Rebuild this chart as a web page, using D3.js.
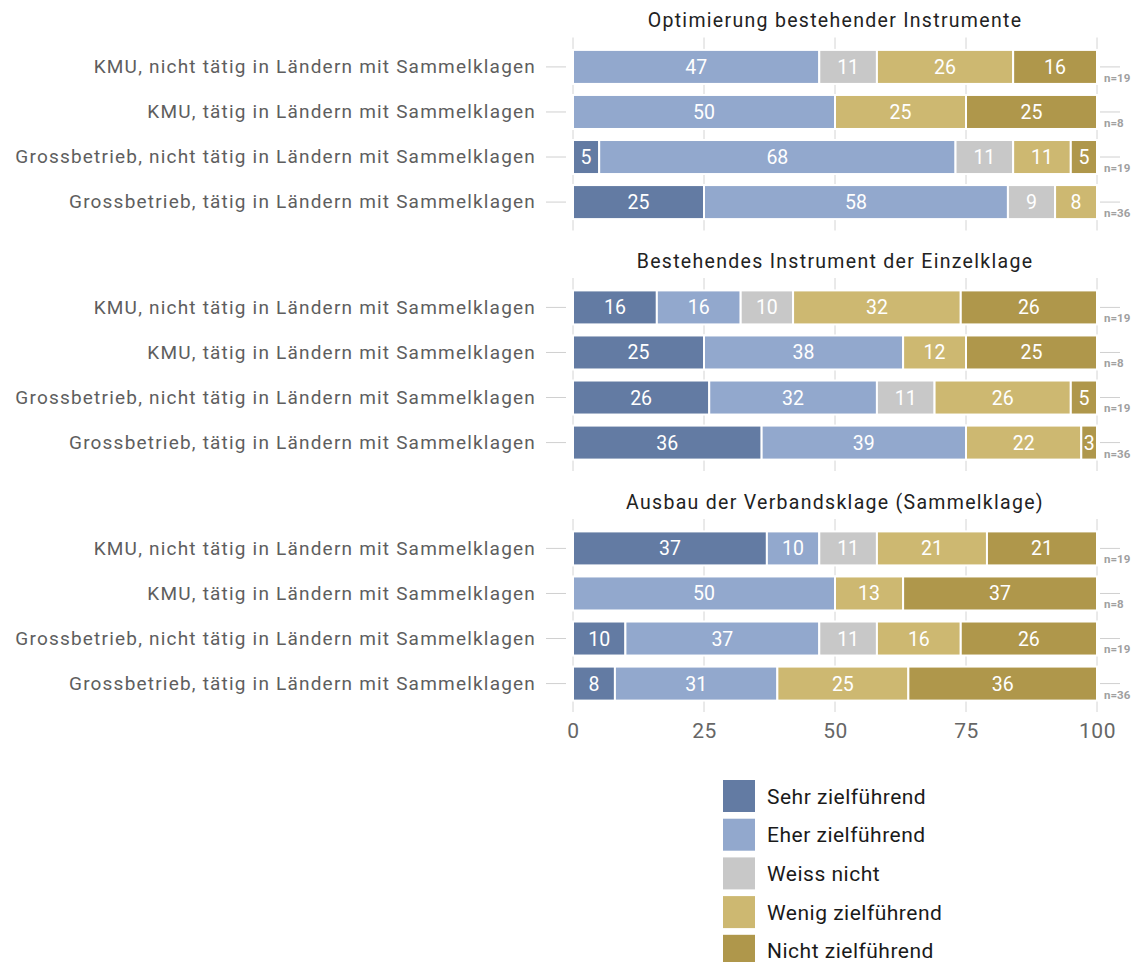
<!DOCTYPE html>
<html><head><meta charset="utf-8">
<script src="https://cdn.jsdelivr.net/npm/d3@7"></script>
<style>body{margin:0;background:#fff}svg{display:block}</style>
</head><body>
<script>
const panels = ["Optimierung bestehender Instrumente","Bestehendes Instrument der Einzelklage","Ausbau der Verbandsklage (Sammelklage)"];
const groups = ["KMU, nicht tätig in Ländern mit Sammelklagen","KMU, tätig in Ländern mit Sammelklagen","Grossbetrieb, nicht tätig in Ländern mit Sammelklagen","Grossbetrieb, tätig in Ländern mit Sammelklagen"];
const nLabels = ["n=19","n=8","n=19","n=36"];
const categories = ["Sehr zielführend","Eher zielführend","Weiss nicht","Wenig zielführend","Nicht zielführend"];
const colors = ["#637ba3","#92a8cd","#c8c8c8","#cdb871","#af974b"];
const optimierung = [[0,47,11,26,16],[0,50,0,25,25],[5,68,11,11,5],[25,58,9,8,0]];
const einzelklage = [[16,16,10,32,26],[25,38,0,12,25],[26,32,11,26,5],[36,39,0,22,3]];
const verbandsklage = [[37,10,11,21,21],[0,50,0,13,37],[10,37,11,16,26],[8,31,0,25,36]];
const xTicks = [0,25,50,75,100];
const panelData = [optimierung, einzelklage, verbandsklage];

const W=1139,H=962;
const svg=d3.select("body").append("svg").attr("width",W).attr("height",H);
const font="Roboto, 'Noto Sans', sans-serif";
const x=d3.scaleLinear().domain([0,100]).range([573,1097]);
const panelTops=[44.5,285,526];

panelData.forEach((data,pi)=>{
  const top=panelTops[pi];
  const y=d3.scaleBand().domain(groups).range([top,top+180]).paddingInner(0.245).paddingOuter(0.12);
  const g=svg.append("g");
  // gridlines
  g.selectAll("line.grid").data(xTicks).join("line")
    .attr("x1",d=>x(d)).attr("x2",d=>x(d))
    .attr("y1",top-7).attr("y2",top+186)
    .attr("stroke","#d4d4d4").attr("stroke-width",1);
  // title
  g.append("text").attr("x",(x(0)+x(100))/2).attr("y",top-17.5)
    .attr("text-anchor","middle").attr("font-family",font).attr("font-size",19.5)
    .attr("letter-spacing",1.3)
    .attr("fill","#222").text(panels[pi]);
  // left axis
  const ya=d3.axisLeft(y).tickSize(20).tickPadding(10);
  const ax=g.append("g").attr("transform",`translate(${x(0)-7},0)`).call(ya);
  ax.select(".domain").remove();
  ax.selectAll(".tick line").attr("stroke","#d0d0d0");
  ax.selectAll(".tick text").attr("font-family",font).attr("font-size",19).attr("letter-spacing",1.2).attr("fill","#5e5e5e");
  // right axis n labels
  const yr=d3.axisRight(y).tickSize(20).tickFormat((d,i)=>nLabels[i]);
  const axr=g.append("g").attr("transform",`translate(${x(100)+3},0)`).call(yr);
  axr.select(".domain").remove();
  axr.selectAll(".tick line").attr("stroke","#d0d0d0");
  axr.selectAll(".tick text").attr("x",4).attr("dy","1.3em").attr("font-family",font).attr("font-size",11.5)
    .attr("font-weight","bold").attr("fill","#a0a0a0");
  // bars
  data.forEach((vals,ri)=>{
    let cum=0;
    const segs=vals.map((v,ci)=>{const s={v,ci,x0:cum};cum+=v;return s;}).filter(s=>s.v>0);
    const row=g.append("g");
    row.selectAll("rect").data(segs).join("rect")
      .attr("x",s=>x(s.x0)).attr("width",s=>x(s.x0+s.v)-x(s.x0))
      .attr("y",y(groups[ri])).attr("height",y.bandwidth())
      .attr("fill",s=>colors[s.ci]).attr("stroke","#fff").attr("stroke-width",2);
    row.selectAll("text").data(segs).join("text")
      .attr("x",s=>(x(s.x0)+x(s.x0+s.v))/2).attr("y",y(groups[ri])+y.bandwidth()/2)
      .attr("dy","0.36em").attr("text-anchor","middle").attr("font-family",font)
      .attr("font-size",19.5).attr("fill","#fff").text(s=>s.v);
  });
});

// bottom axis
const xa=d3.axisBottom(x).tickValues(xTicks).tickSize(0).tickPadding(0);
const bx=svg.append("g").attr("transform","translate(0,719)").call(xa);
bx.select(".domain").remove();
bx.selectAll(".tick text").attr("font-family",font).attr("font-size",21).attr("letter-spacing",0.5).attr("fill","#666").attr("dy","0.9em");

// legend
const lg=svg.append("g").attr("transform","translate(723,780)");
const li=lg.selectAll("g").data(categories).join("g").attr("transform",(d,i)=>`translate(0,${i*38.7})`);
li.append("rect").attr("width",32).attr("height",32).attr("fill",(d,i)=>colors[i]);
li.append("text").attr("x",44).attr("y",16).attr("dy","0.36em").attr("font-family",font)
  .attr("font-size",21).attr("letter-spacing",0.5).attr("fill","#1a1a1a").text(d=>d);
</script>
</body></html>
